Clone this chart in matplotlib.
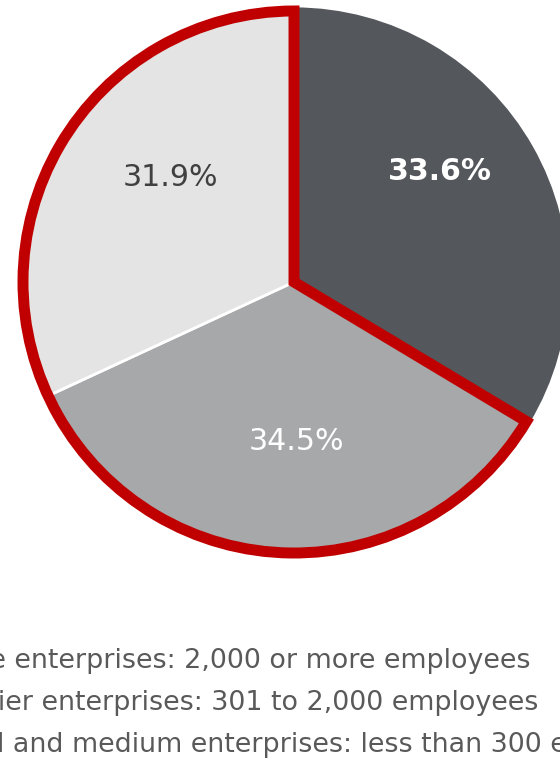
import matplotlib.pyplot as plt
from matplotlib.patches import Wedge

# Share of enterprises by size
categories = ["Large enterprises: 2,000 or more employees",
              "Mid-tier enterprises: 301 to 2,000 employees",
              "Small and medium enterprises: less than 300 employees"]
shares = [33.6, 34.5, 31.9]
colors = ["#54575c", "#a7a8aa", "#e4e4e4"]

W, H = 560, 759
fig = plt.figure(figsize=(W / 100, H / 100), dpi=100)
ax = fig.add_axes([0, 0, 1, 1])

cx, cy, r = 294, H - 282, 276
wedges, _ = ax.pie(shares, colors=colors, startangle=90, counterclock=False,
                   radius=r, center=(cx, cy),
                   wedgeprops=dict(edgecolor="white", linewidth=2))

# red outline around the two smaller size classes
theta2 = 90 + 360 * (1 - shares[0] / sum(shares))
ax.add_patch(Wedge((cx, cy), 271, 90, theta2, fill=False,
                   edgecolor="#c00000", linewidth=7.9, joinstyle="miter"))

# data labels (pixel positions as in the original)
label_pos = [(440, 172), (296, 441), (170, 178)]
label_style = [dict(color="white", fontweight="bold"),
               dict(color="white"),
               dict(color="#404040")]
for v, (x, y), st in zip(shares, label_pos, label_style):
    ax.text(x, H - y, f"{v:.1f}%", ha="center", va="center",
            fontsize=21.6, family="DejaVu Sans", **st)

# legend text (markers fall outside the crop, as in the original)
for i, lab in enumerate(categories):
    ax.text(-70, H - (668 + 42 * i), lab, ha="left", va="baseline",
            fontsize=19.4, color="#595959", family="DejaVu Sans")

ax.set_xlim(0, W)
ax.set_ylim(0, H)
ax.set_aspect("equal")
ax.axis("off")

fig.savefig("out.png", dpi=100)
